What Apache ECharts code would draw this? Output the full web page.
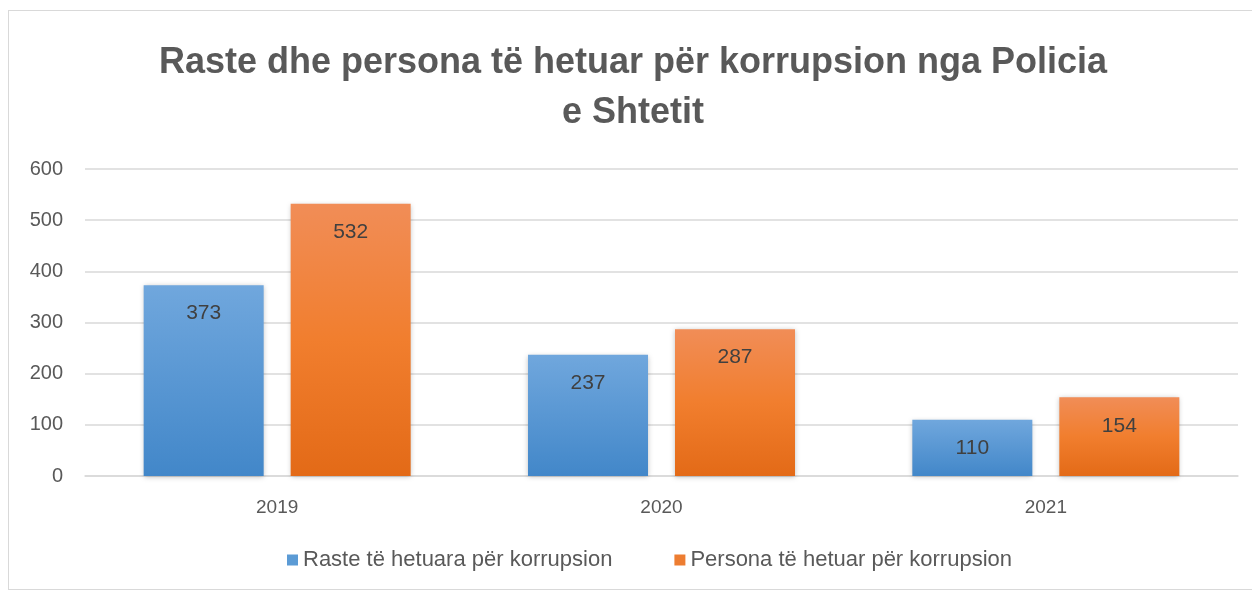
<!DOCTYPE html>
<html>
<head>
<meta charset="utf-8">
<script src="https://cdn.jsdelivr.net/npm/echarts@6/dist/echarts.min.js"></script>
<style>
  html, body { margin: 0; padding: 0; background: #fff; }
  #chart { position: absolute; left: 8px; top: 10px; width: 1250px; height: 580px;
           border: 1px solid #d9d9d9; box-sizing: border-box; }
</style>
</head>
<body>
<div id="chart"></div>
<script>
// data
let years = ['2019', '2020', '2021'];
let rasteHetuara = [373, 237, 110];
let personaHetuar = [532, 287, 154];
let seriesNames = ['Raste të hetuara për korrupsion', 'Persona të hetuar për korrupsion'];

let myChart = echarts.init(document.getElementById('chart'));
let fontFam = '"Liberation Sans", Arial, sans-serif';

let blueGrad = new echarts.graphic.LinearGradient(0, 0, 0, 1, [
	{ offset: 0, color: '#70a7dd' },
	{ offset: 1, color: '#4287c9' }
]);
let orangeGrad = new echarts.graphic.LinearGradient(0, 0, 0, 1, [
	{ offset: 0, color: '#f18d57' },
	{ offset: 0.5, color: '#f17e2e' },
	{ offset: 1, color: '#e36a17' }
]);

let option = {
	title: {
		text: 'Raste dhe persona të hetuar për korrupsion nga Policia\ne Shtetit',
		left: 'center',
		top: 22,
		textStyle: {
			fontFamily: fontFam,
			fontSize: 36,
			fontWeight: 'bold',
			color: '#595959',
			lineHeight: 50
		}
	},
	legend: {
		bottom: 13,
		left: 273,
		itemWidth: 11,
		itemHeight: 11,
		itemGap: 62,
		icon: 'rect',
		data: [
			{ name: seriesNames[0], itemStyle: { color: '#5b9bd5' } },
			{ name: seriesNames[1], itemStyle: { color: '#ed7d31' } }
		],
		textStyle: { fontFamily: fontFam, fontSize: 22, color: '#595959' }
	},
	grid: {
		left: 76,
		right: 19,
		top: 158,
		bottom: 113,
		containLabel: false
	},
	xAxis: {
		type: 'category',
		data: years,
		axisLine: { lineStyle: { color: '#d9d9d9', width: 1.5 } },
		axisTick: { show: false },
		axisLabel: { fontFamily: fontFam, fontSize: 19, color: '#595959', margin: 22 }
	},
	yAxis: {
		type: 'value',
		min: 0,
		max: 600,
		interval: 100,
		axisLine: { show: false },
		axisTick: { show: false },
		splitLine: { lineStyle: { color: '#d9d9d9', width: 1.5 } },
		axisLabel: { fontFamily: fontFam, fontSize: 20, color: '#595959', margin: 22 }
	},
	series: [
		{
			name: seriesNames[0],
			type: 'bar',
			data: rasteHetuara,
			barWidth: 120,
			barGap: '22.5%',
			itemStyle: {
				color: blueGrad,
				shadowColor: 'rgba(0,0,0,0.25)',
				shadowBlur: 5,
				shadowOffsetY: 1
			},
			label: {
				show: true,
				position: 'insideTop',
				distance: 18,
				fontFamily: fontFam,
				fontSize: 21,
				color: '#404040'
			}
		},
		{
			name: seriesNames[1],
			type: 'bar',
			data: personaHetuar,
			barWidth: 120,
			itemStyle: {
				color: orangeGrad,
				shadowColor: 'rgba(0,0,0,0.25)',
				shadowBlur: 5,
				shadowOffsetY: 1
			},
			label: {
				show: true,
				position: 'insideTop',
				distance: 18,
				fontFamily: fontFam,
				fontSize: 21,
				color: '#404040'
			}
		}
	]
};
myChart.setOption(option);
</script>
</body>
</html>
